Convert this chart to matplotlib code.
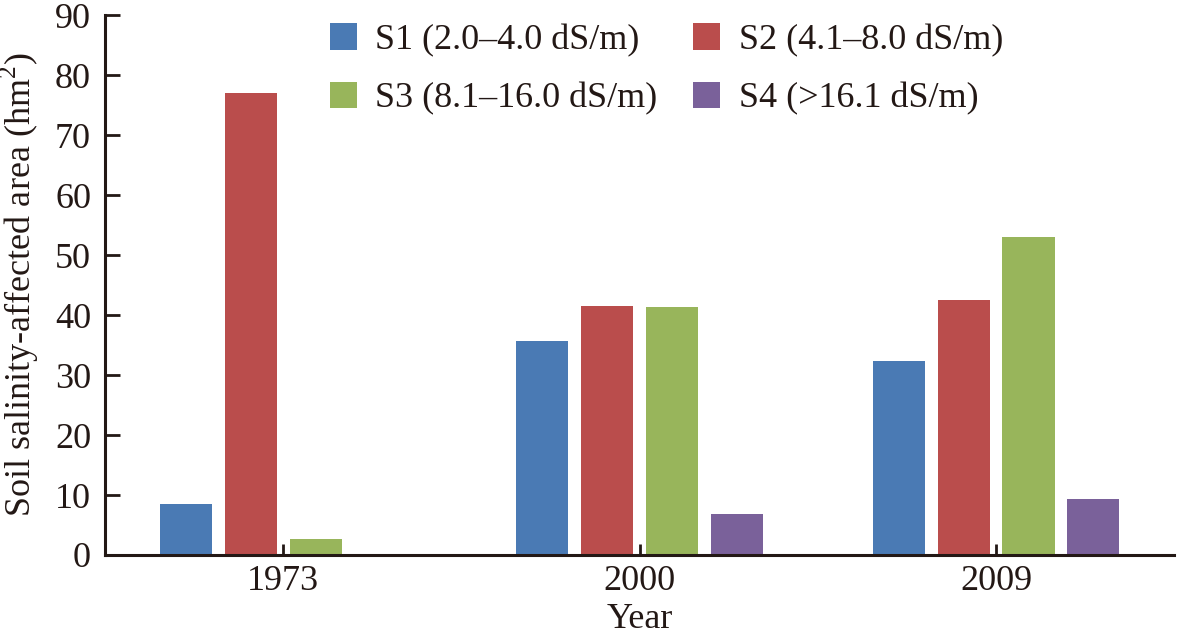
import numpy as np
import matplotlib
matplotlib.use('Agg')
import matplotlib.pyplot as plt

plt.rcParams['font.family'] = ['Liberation Serif', 'DejaVu Serif']
plt.rcParams['mathtext.fontset'] = 'custom'
plt.rcParams['mathtext.rm'] = 'Liberation Serif'

years = ['1973', '2000', '2009']
labels = ['S1 (2.0–4.0 dS/m)', 'S2 (4.1–8.0 dS/m)',
          'S3 (8.1–16.0 dS/m)', 'S4 (>16.1 dS/m)']
s1 = [8.5, 35.7, 32.3]
s2 = [77.0, 41.5, 42.5]
s3 = [2.7, 41.3, 53.0]
s4 = [0.0, 6.8, 9.3]
colors = ['#4A7AB4', '#BA4D4C', '#98B55B', '#7A619A']
ink = '#231815'

fig = plt.figure(figsize=(11.79, 6.35), dpi=100)
ax = fig.add_axes([0.089, 0.126, 0.907, 0.85])

x = np.arange(len(years))
pitch = 0.182
width = 0.146
series = [s1, s2, s3, s4]
bars = []
for i, vals in enumerate(series):
    bars.append(ax.bar(x + (i - 1.5) * pitch, vals, width, color=colors[i], label=labels[i]))

ax.set_xlim(-0.5, 2.5)
ax.set_ylim(0, 90)
ax.set_yticks(range(0, 91, 10))
ax.set_xticks(x)
ax.set_xticklabels(years)
for s in ['top', 'right']:
    ax.spines[s].set_visible(False)
for s in ['left', 'bottom']:
    ax.spines[s].set_linewidth(2.2)
    ax.spines[s].set_color(ink)
ax.tick_params(axis='y', direction='in', length=11, width=2, colors=ink, labelsize=26, pad=10)
ax.tick_params(axis='x', direction='in', length=8, width=2, colors=ink, labelsize=26, pad=7)

ax.set_xlabel('Year', fontsize=26, color=ink, labelpad=4)
ax.set_ylabel('Soil salinity-affected area (hm$^2$)', fontsize=26, color=ink, labelpad=10)

# row-wise order: S1 S2 / S3 S4
order = [0, 2, 1, 3]
ax.legend([bars[i] for i in order], [labels[i] for i in order],
          ncol=2, frameon=False, fontsize=26, loc='upper left',
          bbox_to_anchor=(0.18, 1.045), handlelength=0.75, handleheight=0.75,
          handletextpad=0.5, columnspacing=1.0, labelspacing=0.68, labelcolor=ink)

fig.savefig('out.png', dpi=100)
